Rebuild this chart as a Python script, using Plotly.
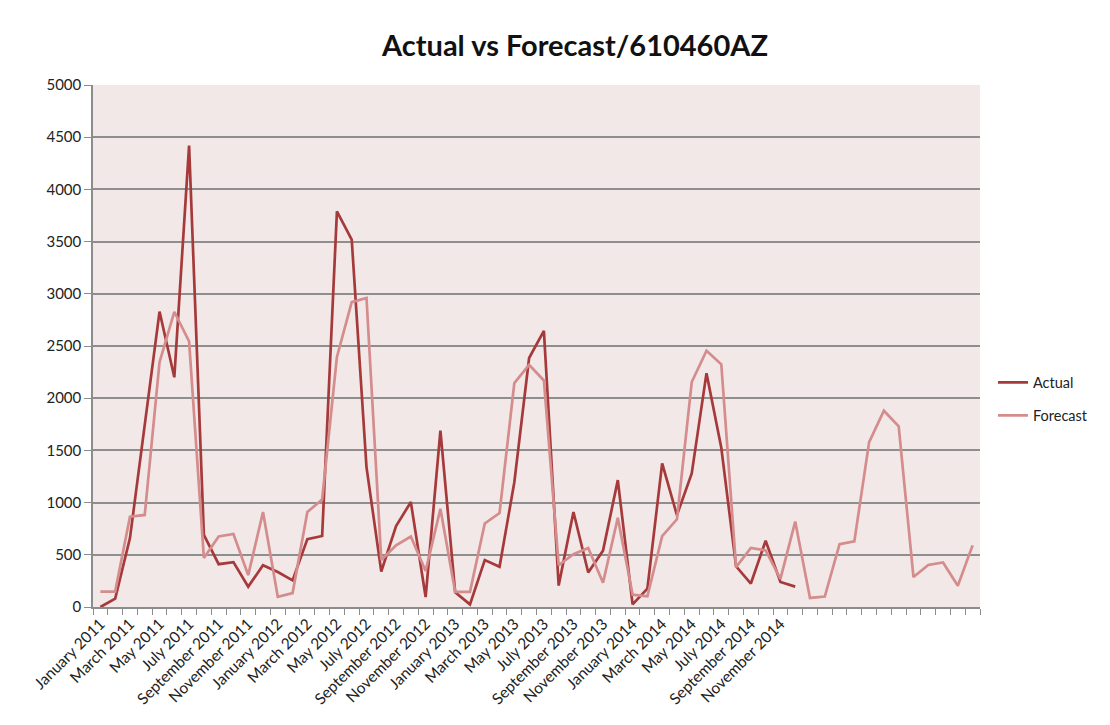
import plotly.graph_objects as go

months = ["January", "February", "March", "April", "May", "June", "July",
          "August", "September", "October", "November", "December"]
categories = [f"{m} {y}" for y in (2011, 2012, 2013, 2014) for m in months] + [""] * 12

actual = [0, 80, 660, 1720, 2830, 2200, 4420, 690, 410, 430, 195, 400,
          335, 255, 650, 680, 3790, 3520, 1340, 340, 775, 1005, 95, 1690,
          140, 25, 450, 385, 1195, 2385, 2645, 205, 910, 330, 540, 1215,
          25, 175, 1375, 880, 1280, 2240, 1525, 390, 225, 635, 240, 195]

forecast = [148, 148, 865, 882, 2345, 2828, 2545, 470, 675, 700, 305, 910,
            97, 133, 910, 1030, 2395, 2920, 2960, 450, 590, 675, 345, 940,
            145, 145, 800, 900, 2145, 2320, 2170, 400, 505, 565, 232, 855,
            118, 102, 678, 840, 2155, 2455, 2325, 382, 565, 542, 270, 818,
            87, 100, 602, 628, 1580, 1880, 1730, 287, 402, 427, 203, 590]

y_ticks = [0, 500, 1000, 1500, 2000, 2500, 3000, 3500, 4000, 4500, 5000]

x_actual = list(range(len(actual)))
x_fc = list(range(len(forecast)))
label_idx = [i for i in range(0, 48, 2)]

fig = go.Figure()
fig.add_trace(go.Scatter(x=x_actual, y=actual, mode="lines", name="Actual",
                         legendgroup="a",
                         line=dict(color="#A63A3B", width=2.7)))
fig.add_trace(go.Scatter(x=x_fc, y=forecast, mode="lines", name="Forecast",
                         legendgroup="f",
                         line=dict(color="#D48C8D", width=2.7)))

W, H = 1102, 717
fig.update_layout(
    width=W, height=H,
    paper_bgcolor="white",
    plot_bgcolor="#F2E8E8",
    margin=dict(l=85, r=W - 972, t=77, b=H - 599, autoexpand=False),
    font=dict(family="Lato, Carlito, 'Liberation Sans', sans-serif", color="#222222"),
    title=dict(text="<b>Actual vs Forecast/610460AZ</b>", x=(575 - 8) / W, xanchor="center",
               y=1 - (46 - 8) / H, yanchor="middle", font=dict(size=29, color="#111111")),
    showlegend=True,
    legend=dict(x=(993 - 8 - 85) / (972 - 85), y=(599 - (399 - 8)) / (599 - 77),
                xanchor="left", yanchor="middle", traceorder="grouped",
                font=dict(size=14.5, color="#222222"), bgcolor="rgba(0,0,0,0)",
                tracegroupgap=11, itemwidth=30),
    xaxis=dict(
        range=[-0.5, 59.5],
        tickmode="array",
        tickvals=label_idx,
        ticktext=[categories[i] for i in label_idx],
        tickangle=-45,
        tickfont=dict(size=15.5),
        ticks="",
        showgrid=False,
        zeroline=False,
        showline=True, linecolor="#8C8C8C", linewidth=1.5,
        minor=dict(tick0=-0.5, dtick=1, ticks="outside", ticklen=6,
                   tickcolor="#8C8C8C", tickwidth=1.3, showgrid=False),
    ),
    yaxis=dict(
        range=[0, 5000],
        tickmode="array",
        tickvals=y_ticks,
        ticktext=[str(v) for v in y_ticks],
        tickfont=dict(size=15),
        ticks="outside", ticklen=7, tickcolor="#8C8C8C", tickwidth=1.3,
        showgrid=True, gridcolor="#8E8E8E", gridwidth=1.5,
        zeroline=False,
        showline=True, linecolor="#8C8C8C", linewidth=1.5,
    ),
)

fig.write_html("out.html")
